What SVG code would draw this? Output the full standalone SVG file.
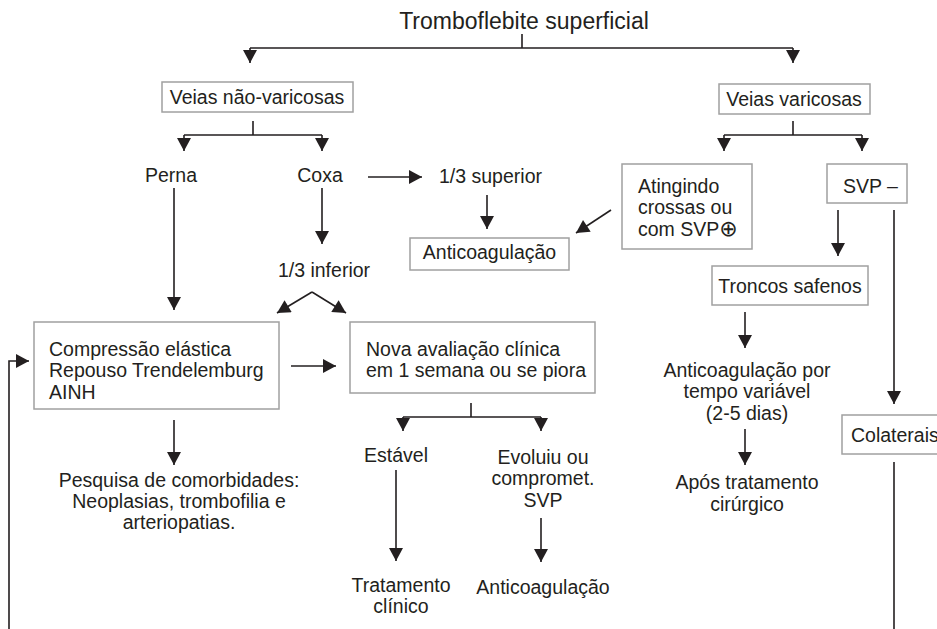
<svg xmlns="http://www.w3.org/2000/svg" width="937" height="629" viewBox="0 0 937 629">
<defs>
<marker id="ah" markerUnits="userSpaceOnUse" markerWidth="14" markerHeight="14" viewBox="0 0 13 14" refX="13" refY="7" orient="auto"><path d="M0,0 L13,7 L0,14 z" fill="#231f20"/></marker>
<style>
text{font-family:"Liberation Sans",Arial,sans-serif;font-size:19.5px;fill:#231f20}
.c{text-anchor:middle}
.box{fill:#fff;stroke:#a0a0a0;stroke-width:1.5}
.ln{fill:none;stroke:#231f20;stroke-width:1.6}
.ar{fill:none;stroke:#231f20;stroke-width:1.6;marker-end:url(#ah)}
</style>
</defs>
<rect width="937" height="629" fill="#fff"/>
<g id="title"><text class="c" x="524" y="29" style="font-size:23px">Tromboflebite superficial</text></g>
<g id="n-nao-varicosas"><rect class="box" x="162" y="82" width="191" height="30"/><text class="c" x="257" y="104">Veias não-varicosas</text></g>
<g id="n-varicosas"><rect class="box" x="719" y="84" width="151" height="30"/><text class="c" x="794" y="106">Veias varicosas</text></g>
<g id="n-perna"><text class="c" x="171" y="182">Perna</text></g>
<g id="n-coxa"><text class="c" x="320" y="182">Coxa</text></g>
<g id="n-sup"><text x="439" y="183">1/3 superior</text></g>
<g id="n-anticoag1"><rect class="box" x="410" y="238" width="159" height="32"/><text class="c" x="489.5" y="259">Anticoagulação</text></g>
<g id="n-atingindo"><rect class="box" x="622" y="164" width="130" height="85"/><text x="638" y="193">Atingindo</text><text x="638" y="214">crossas ou</text><text x="638" y="236">com SVP<tspan style="font-family:'DejaVu Sans',sans-serif;font-size:22px">⊕</tspan></text></g>
<g id="n-svpneg"><rect class="box" x="827" y="164" width="80" height="39"/><text x="843" y="193">SVP –</text></g>
<g id="n-troncos"><rect class="box" x="712" y="266" width="156" height="39"/><text class="c" x="790" y="293">Troncos safenos</text></g>
<g id="n-inf"><text class="c" x="324" y="277">1/3 inferior</text></g>
<g id="n-compressao"><rect class="box" x="34" y="322" width="245" height="87"/><text x="49" y="356">Compressão elástica</text><text x="49" y="377">Repouso Trendelemburg</text><text x="49" y="399">AINH</text></g>
<g id="n-nova"><rect class="box" x="350" y="322" width="245" height="71"/><text x="366" y="356">Nova avaliação clínica</text><text x="366" y="377">em 1 semana ou se piora</text></g>
<g id="n-anticoag-var"><text class="c" x="747" y="377">Anticoagulação por</text><text class="c" x="747" y="398">tempo variável</text><text class="c" x="747" y="420">(2-5 dias)</text></g>
<g id="n-apos"><text class="c" x="747" y="489">Após tratamento</text><text class="c" x="747" y="511">cirúrgico</text></g>
<g id="n-colaterais"><rect class="box" x="842" y="415" width="100" height="39"/><text x="851" y="442">Colaterais</text></g>
<g id="n-pesquisa"><text class="c" x="179" y="487">Pesquisa de comorbidades:</text><text class="c" x="179" y="508">Neoplasias, trombofilia e</text><text class="c" x="179" y="529">arteriopatias.</text></g>
<g id="n-estavel"><text class="c" x="396" y="462">Estável</text></g>
<g id="n-evoluiu"><text class="c" x="543" y="464">Evoluiu ou</text><text class="c" x="543" y="485">compromet.</text><text class="c" x="543" y="507">SVP</text></g>
<g id="n-tratamento"><text class="c" x="401" y="592">Tratamento</text><text class="c" x="401" y="613">clínico</text></g>
<g id="n-anticoag2"><text class="c" x="543" y="594">Anticoagulação</text></g>
<g id="connectors">
<path class="ln" d="M522,34 V48 M250,48 H793"/>
<path class="ar" d="M250,48 V63"/>
<path class="ar" d="M793,48 V63"/>
<path class="ln" d="M253,121 V135 M184,135 H322"/>
<path class="ar" d="M184,135 V151"/>
<path class="ar" d="M322,135 V151"/>
<path class="ln" d="M793,121 V135 M724,135 H862"/>
<path class="ar" d="M724,135 V151"/>
<path class="ar" d="M862,135 V151"/>
<path class="ar" d="M174,188 V310"/>
<path class="ar" d="M322,188 V244"/>
<path class="ar" d="M368,177 H422"/>
<path class="ar" d="M487,195 V229"/>
<path class="ar" d="M611,210 L576,233"/>
<path class="ar" d="M838,210 V256"/>
<path class="ar" d="M894,210 V404"/>
<path class="ln" d="M894,462 V629"/>
<path class="ar" d="M745,312 V348"/>
<path class="ar" d="M745,429 V465"/>
<path class="ar" d="M312,292 L277,313"/>
<path class="ar" d="M312,292 L346,313"/>
<path class="ar" d="M291,366 H336"/>
<path class="ar" d="M9,629 V361 H29"/>
<path class="ar" d="M174,420 V465"/>
<path class="ln" d="M471,403 V417 M403,417 H541"/>
<path class="ar" d="M403,417 V431"/>
<path class="ar" d="M541,417 V431"/>
<path class="ar" d="M396,470 V561"/>
<path class="ar" d="M541,518 V562"/>
</g>
</svg>
